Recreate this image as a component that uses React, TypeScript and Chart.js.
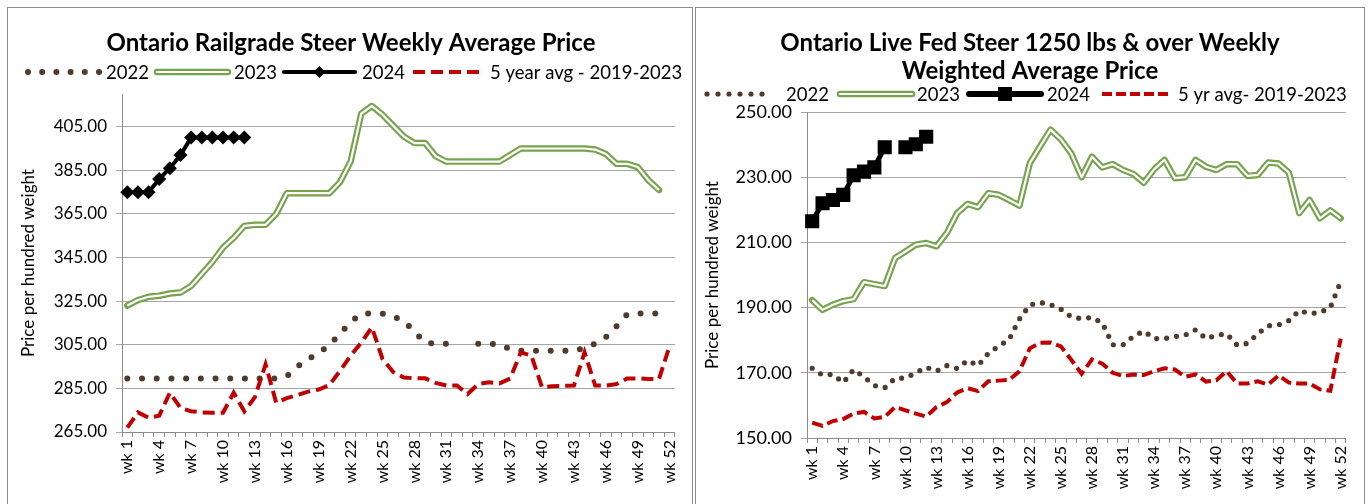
import React, { useEffect, useRef } from 'react';
import { Chart, registerables } from 'chart.js';

Chart.register(...registerables);

const weeks = [
  'wk 1','wk 2','wk 3','wk 4','wk 5','wk 6','wk 7','wk 8','wk 9','wk 10',
  'wk 11','wk 12','wk 13','wk 14','wk 15','wk 16','wk 17','wk 18','wk 19','wk 20',
  'wk 21','wk 22','wk 23','wk 24','wk 25','wk 26','wk 27','wk 28','wk 29','wk 30',
  'wk 31','wk 32','wk 33','wk 34','wk 35','wk 36','wk 37','wk 38','wk 39','wk 40',
  'wk 41','wk 42','wk 43','wk 44','wk 45','wk 46','wk 47','wk 48','wk 49','wk 50',
  'wk 51','wk 52'
];

// ---------- Ontario Railgrade Steer Weekly Average Price ----------
const railTitle = ['Ontario Railgrade Steer Weekly Average Price'];
const railLegend = ['2022', '2023', '2024', '5 year avg - 2019-2023'];
const railTicks = [265, 285, 305, 325, 345, 365, 385, 405];
const rail2022 = [
  289.5, 289.5, 289.5, 289.5, 289.5, 289.5, 289.5, 289.5, 289.5, 289.5,
  289.5, 289.5, 289.5, 289.5, 289.5, 290.5, 295, 298.5, 301, 305,
  310, 315.5, 319.3, 319.3, 319.3, 318, 316, 311, 306, 305.5,
  305.5, null, null, 305.5, 305.5, 305, 303, 302.3, 302.3, 302.3,
  302.3, 302.3, 302.3, 303.5, 305.5, 308.5, 313.5, 319, 319.3, 319.3,
  319.3, 319.3
];
const rail2023 = [
  323, 325.5, 327, 327.5, 328.5, 329, 332, 337.5, 343, 349.5,
  354, 359.5, 360, 360, 365, 374.5, 374.5, 374.5, 374.5, 374.5,
  379.5, 389, 411, 414.5, 410.5, 405.5, 400.5, 397.5, 397.5, 391.5,
  389, 389, 389, 389, 389, 389, 392, 395, 395, 395,
  395, 395, 395, 395, 394.5, 392.5, 388, 388, 386.5, 380.5,
  376, null
];
const rail2024 = [375, 375, 375, 381, 386, 392, 400, 400, 400, 400, 400, 400];
const rail5yr = [
  267, 274, 271.5, 272.5, 283, 276, 274.5, 274, 273.8, 273.8,
  283, 274.5, 281, 296, 278.5, 280.5, 282, 283.5, 284.5, 286.5,
  293, 300, 306, 313, 298.5, 292.5, 290, 289.6, 289.6, 287.5,
  286.3, 286.3, 282.4, 287, 287.8, 287.3, 289.5, 301.5, 300, 285.5,
  286, 286.2, 286.3, 301.5, 286.3, 286.3, 287, 289.5, 289.6, 289.3,
  289.3, 304.5
];

// ---------- Ontario Live Fed Steer 1250 lbs & over ----------
const fedTitle = ['Ontario Live Fed Steer 1250 lbs & over Weekly', 'Weighted Average Price'];
const fedLegend = ['2022', '2023', '2024', '5 yr avg- 2019-2023'];
const fedTicks = [150, 170, 190, 210, 230, 250];
const fed2022 = [
  171.4, 169.3, 169.5, 167, 171, 168.8, 166.1, 165.4, 168.3, 168.4,
  170, 171.7, 170.5, 172.2, 171.3, 173.8, 172.2, 176, 178.2, 180.2,
  186.5, 190.8, 191.6, 190.9, 189.5, 187.2, 186.6, 187, 185.3, 178.6,
  178.6, 181.2, 182.8, 180.5, 180.5, 181.1, 181.6, 183.2, 180.5, 181.5,
  182, 178.5, 179, 182, 184.4, 184.7, 186, 189.1, 188.2, 188.5,
  190, 198
];
const fed2023 = [
  192.3, 189.3, 190.9, 192, 192.6, 197.8, 197.2, 196.6, 205.2, 207.2,
  209.3, 209.8, 208.8, 212.9, 219, 221.8, 220.8, 225.1, 224.6, 223,
  221.3, 234.3, 239.5, 244.6, 241.6, 237.3, 230, 236.3, 233, 234,
  232.2, 231, 228.3, 232.4, 235.3, 229.7, 230, 235.3, 233.2, 232.2,
  234, 234, 230.4, 230.7, 234.5, 234.2, 231.4, 219, 223, 217.4,
  219.8, 217.4
];
const fed2024 = [216.5, 222, 223, 224.6, 230.6, 231.7, 233, 239.2, null, 239.2, 240.1, 242.4];
const fed5yr = [
  154.7, 153.7, 155.2, 155.8, 157.5, 158, 156, 156.5, 159.5, 158.5,
  157.5, 156.6, 159.5, 161, 164, 165.3, 164.4, 167.4, 167.6, 167.8,
  170.5, 177.5, 179.2, 179.3, 178.1, 174, 169.7, 174.1, 172.8, 170,
  169, 169.5, 169.3, 170.5, 171.4, 171, 168.8, 169.5, 167.3, 167.7,
  170.5, 166.7, 166.7, 167.4, 166.4, 169.2, 167, 166.7, 166.7, 164.9,
  164.5, 180.5
];

const FONT = 'Lato, "Open Sans", sans-serif';
const BROWN = '#4F3A2B';
const GREEN = '#77A34F';
const RED = '#C00000';
const GRID = '#A6A6A6';
const AXIS = '#8C8C8C';

type LegendItem = { kind: string; x1: number; x2: number; tx: number; text: string };

function drawMarker(ctx: CanvasRenderingContext2D, style: string, x: number, y: number, r: number) {
  ctx.beginPath();
  if (style === 'rectRot') {
    ctx.moveTo(x, y - r); ctx.lineTo(x + r, y); ctx.lineTo(x, y + r); ctx.lineTo(x - r, y);
  } else {
    ctx.rect(x - r, y - r, 2 * r, 2 * r);
  }
  ctx.closePath();
  ctx.fill();
}

const decorPlugin = {
  id: 'decor',
  afterDraw(chart: any, _args: any, opts: any) {
    const ctx: CanvasRenderingContext2D = chart.ctx;
    ctx.save();
    ctx.fillStyle = '#000';
    ctx.textAlign = 'center';
    ctx.textBaseline = 'middle';
    ctx.font = `bold ${opts.titleSize}px ${FONT}`;
    opts.titleLines.forEach((t: string, i: number) => {
      ctx.fillText(t, opts.titleX, opts.titleY + i * opts.titleLH);
    });
    ctx.font = `${opts.legendSize}px ${FONT}`;
    ctx.textAlign = 'left';
    const y = opts.legendY;
    opts.items.forEach((it: LegendItem) => {
      ctx.save();
      ctx.beginPath();
      ctx.moveTo(it.x1, y);
      ctx.lineTo(it.x2, y);
      if (it.kind === 'dots') {
        ctx.strokeStyle = BROWN;
        ctx.lineWidth = opts.dotW;
        ctx.lineCap = 'round';
        ctx.setLineDash([0, opts.dotGap]);
        ctx.stroke();
      } else if (it.kind === 'double') {
        ctx.strokeStyle = GREEN;
        ctx.lineWidth = 6.5;
        ctx.lineCap = 'round';
        ctx.stroke();
        ctx.strokeStyle = '#fff';
        ctx.lineWidth = 2.2;
        ctx.stroke();
      } else if (it.kind === 'marker') {
        ctx.strokeStyle = '#000';
        ctx.lineWidth = opts.blackW;
        ctx.lineCap = 'round';
        ctx.stroke();
        ctx.fillStyle = '#000';
        drawMarker(ctx, opts.marker, (it.x1 + it.x2) / 2, y, opts.markerLegendR);
      } else if (it.kind === 'dash') {
        ctx.strokeStyle = RED;
        ctx.lineWidth = 4;
        ctx.setLineDash(opts.dash);
        ctx.stroke();
      }
      ctx.restore();
      ctx.fillStyle = '#000';
      ctx.fillText(it.text, it.tx, y + 1);
    });
    ctx.restore();
  },
};

type PanelCfg = {
  legend: string[];
  d2022: (number | null)[];
  d2023: (number | null)[];
  d2024: (number | null)[];
  d5yr: (number | null)[];
  min: number;
  max: number;
  ticks: number[];
  width: number;
  height: number;
  padLeft: number;
  padRight: number;
  padTop: number;
  yWidth: number;
  yFont: number;
  xHeight: number;
  marker: string;
  markerR: number;
  blackW: number;
  dotW: number;
  dotGap: number;
  dash: number[];
  decor: any;
};

function ChartPanel({ cfg }: { cfg: PanelCfg }) {
  const ref = useRef<HTMLCanvasElement | null>(null);
  useEffect(() => {
    if (!ref.current) return;
    const chart = new Chart(ref.current, {
      type: 'line',
      data: {
        labels: weeks,
        datasets: [
          {
            label: cfg.legend[2],
            data: cfg.d2024,
            borderColor: '#000',
            backgroundColor: '#000',
            borderWidth: cfg.blackW,
            pointStyle: cfg.marker as any,
            pointRadius: cfg.markerR,
            pointBorderWidth: 0,
            pointBackgroundColor: '#000',
            order: 1,
          },
          {
            label: cfg.legend[3],
            data: cfg.d5yr,
            borderColor: RED,
            borderWidth: 4,
            borderDash: cfg.dash,
            pointRadius: 0,
            order: 2,
          },
          {
            label: '2023 inner',
            data: cfg.d2023,
            borderColor: '#fff',
            borderWidth: 2.2,
            borderJoinStyle: 'round',
            pointRadius: 0,
            order: 3,
          },
          {
            label: cfg.legend[1],
            data: cfg.d2023,
            borderColor: GREEN,
            borderWidth: 6.5,
            borderJoinStyle: 'round',
            borderCapStyle: 'round',
            pointRadius: 0,
            order: 4,
          },
          {
            label: cfg.legend[0],
            data: cfg.d2022,
            borderColor: BROWN,
            borderWidth: cfg.dotW,
            borderDash: [0, cfg.dotGap],
            borderCapStyle: 'round',
            pointRadius: 0,
            order: 5,
          },
        ],
      },
      options: {
        animation: false,
        responsive: false,
        devicePixelRatio: 1,
        events: [],
        layout: { padding: { left: cfg.padLeft, right: cfg.padRight, top: cfg.padTop, bottom: 0 } },
        plugins: {
          legend: { display: false },
          title: { display: false },
          tooltip: { enabled: false },
          decor: cfg.decor,
        } as any,
        scales: {
          x: {
            type: 'category',
            offset: true,
            afterFit: (s: any) => { s.height = cfg.xHeight; },
            grid: {
              display: true,
              drawOnChartArea: false,
              drawTicks: true,
              tickLength: 5,
              offset: true,
              color: AXIS,
            },
            border: { display: true, color: AXIS, width: 1 },
            ticks: {
              autoSkip: false,
              maxRotation: 90,
              minRotation: 90,
              padding: 3,
              color: '#000',
              font: { family: FONT, size: 16 },
              callback: (_v: any, i: number) => (i % 3 === 0 ? weeks[i] : ''),
            },
          },
          y: {
            type: 'linear',
            min: cfg.min,
            max: cfg.max,
            afterFit: (s: any) => { s.width = cfg.yWidth; },
            afterBuildTicks: (s: any) => { s.ticks = cfg.ticks.map((v) => ({ value: v })); },
            grid: { color: GRID, lineWidth: 1, drawTicks: true, tickLength: 6 },
            border: { display: true, color: AXIS, width: 1 },
            ticks: {
              padding: 9,
              color: '#000',
              font: { family: FONT, size: cfg.yFont },
              callback: (v: any) => Number(v).toFixed(2),
            },
            title: {
              display: true,
              text: 'Price per hundred weight',
              color: '#000',
              font: { family: FONT, size: 17 },
              padding: 0,
            },
          },
        },
      },
      plugins: [decorPlugin as any],
    });
    return () => chart.destroy();
  }, [cfg]);
  return <canvas ref={ref} width={cfg.width} height={cfg.height} style={{ display: 'block', width: cfg.width, height: cfg.height }} />;
}

const railCfg: PanelCfg = {
  legend: railLegend,
  d2022: rail2022,
  d2023: rail2023,
  d2024: rail2024,
  d5yr: rail5yr,
  min: 265,
  max: 420,
  ticks: railTicks,
  width: 684,
  height: 496,
  padLeft: 10,
  padRight: 17,
  padTop: 86,
  yWidth: 104,
  yFont: 17,
  xHeight: 72,
  marker: 'rectRot',
  markerR: 7,
  blackW: 4,
  dotW: 6,
  dotGap: 14.7,
  dash: [12, 6],
  decor: {
    titleLines: railTitle,
    titleX: 343,
    titleY: 35,
    titleLH: 28,
    titleSize: 24,
    legendSize: 18.5,
    legendY: 64,
    marker: 'rectRot',
    markerLegendR: 6,
    blackW: 4,
    dotW: 6,
    dotGap: 14.2,
    dash: [12, 6],
    items: [
      { kind: 'dots', x1: 20, x2: 91, tx: 98, text: railLegend[0] },
      { kind: 'double', x1: 149, x2: 220, tx: 226, text: railLegend[1] },
      { kind: 'marker', x1: 276, x2: 347, tx: 354, text: railLegend[2] },
      { kind: 'dash', x1: 405, x2: 474, tx: 482, text: railLegend[3] },
    ],
  },
};

const fedCfg: PanelCfg = {
  legend: fedLegend,
  d2022: fed2022,
  d2023: fed2023,
  d2024: fed2024,
  d5yr: fed5yr,
  min: 150,
  max: 250,
  ticks: fedTicks,
  width: 667,
  height: 496,
  padLeft: 6,
  padRight: 12,
  padTop: 104,
  yWidth: 105,
  yFont: 18,
  xHeight: 66,
  marker: 'rect',
  markerR: 10,
  blackW: 5,
  dotW: 5.2,
  dotGap: 10,
  dash: [11, 5],
  decor: {
    titleLines: fedTitle,
    titleX: 334,
    titleY: 35,
    titleLH: 28,
    titleSize: 24,
    legendSize: 18.5,
    legendY: 86,
    marker: 'rect',
    markerLegendR: 7,
    blackW: 6,
    dotW: 5.2,
    dotGap: 11,
    dash: [10, 4],
    items: [
      { kind: 'dots', x1: 11, x2: 77, tx: 90, text: fedLegend[0] },
      { kind: 'double', x1: 144, x2: 216, tx: 221, text: fedLegend[1] },
      { kind: 'marker', x1: 273, x2: 345, tx: 351, text: fedLegend[2] },
      { kind: 'dash', x1: 406, x2: 474, tx: 482, text: fedLegend[3] },
    ],
  },
};

export default function App() {
  return (
    <div style={{ position: 'fixed', left: 0, top: 0, width: 1371, height: 504, overflow: 'hidden', background: '#fff' }}>
      <div style={{ position: 'absolute', left: 7, top: 7, width: 686, height: 520, border: '1px solid #8C8C8C', boxSizing: 'border-box' }} />
      <div style={{ position: 'absolute', left: 695, top: 7, width: 670, height: 520, border: '1px solid #8C8C8C', boxSizing: 'border-box' }} />
      <div style={{ position: 'absolute', left: 8, top: 8 }}>
        <ChartPanel cfg={railCfg} />
      </div>
      <div style={{ position: 'absolute', left: 696, top: 8 }}>
        <ChartPanel cfg={fedCfg} />
      </div>
    </div>
  );
}
